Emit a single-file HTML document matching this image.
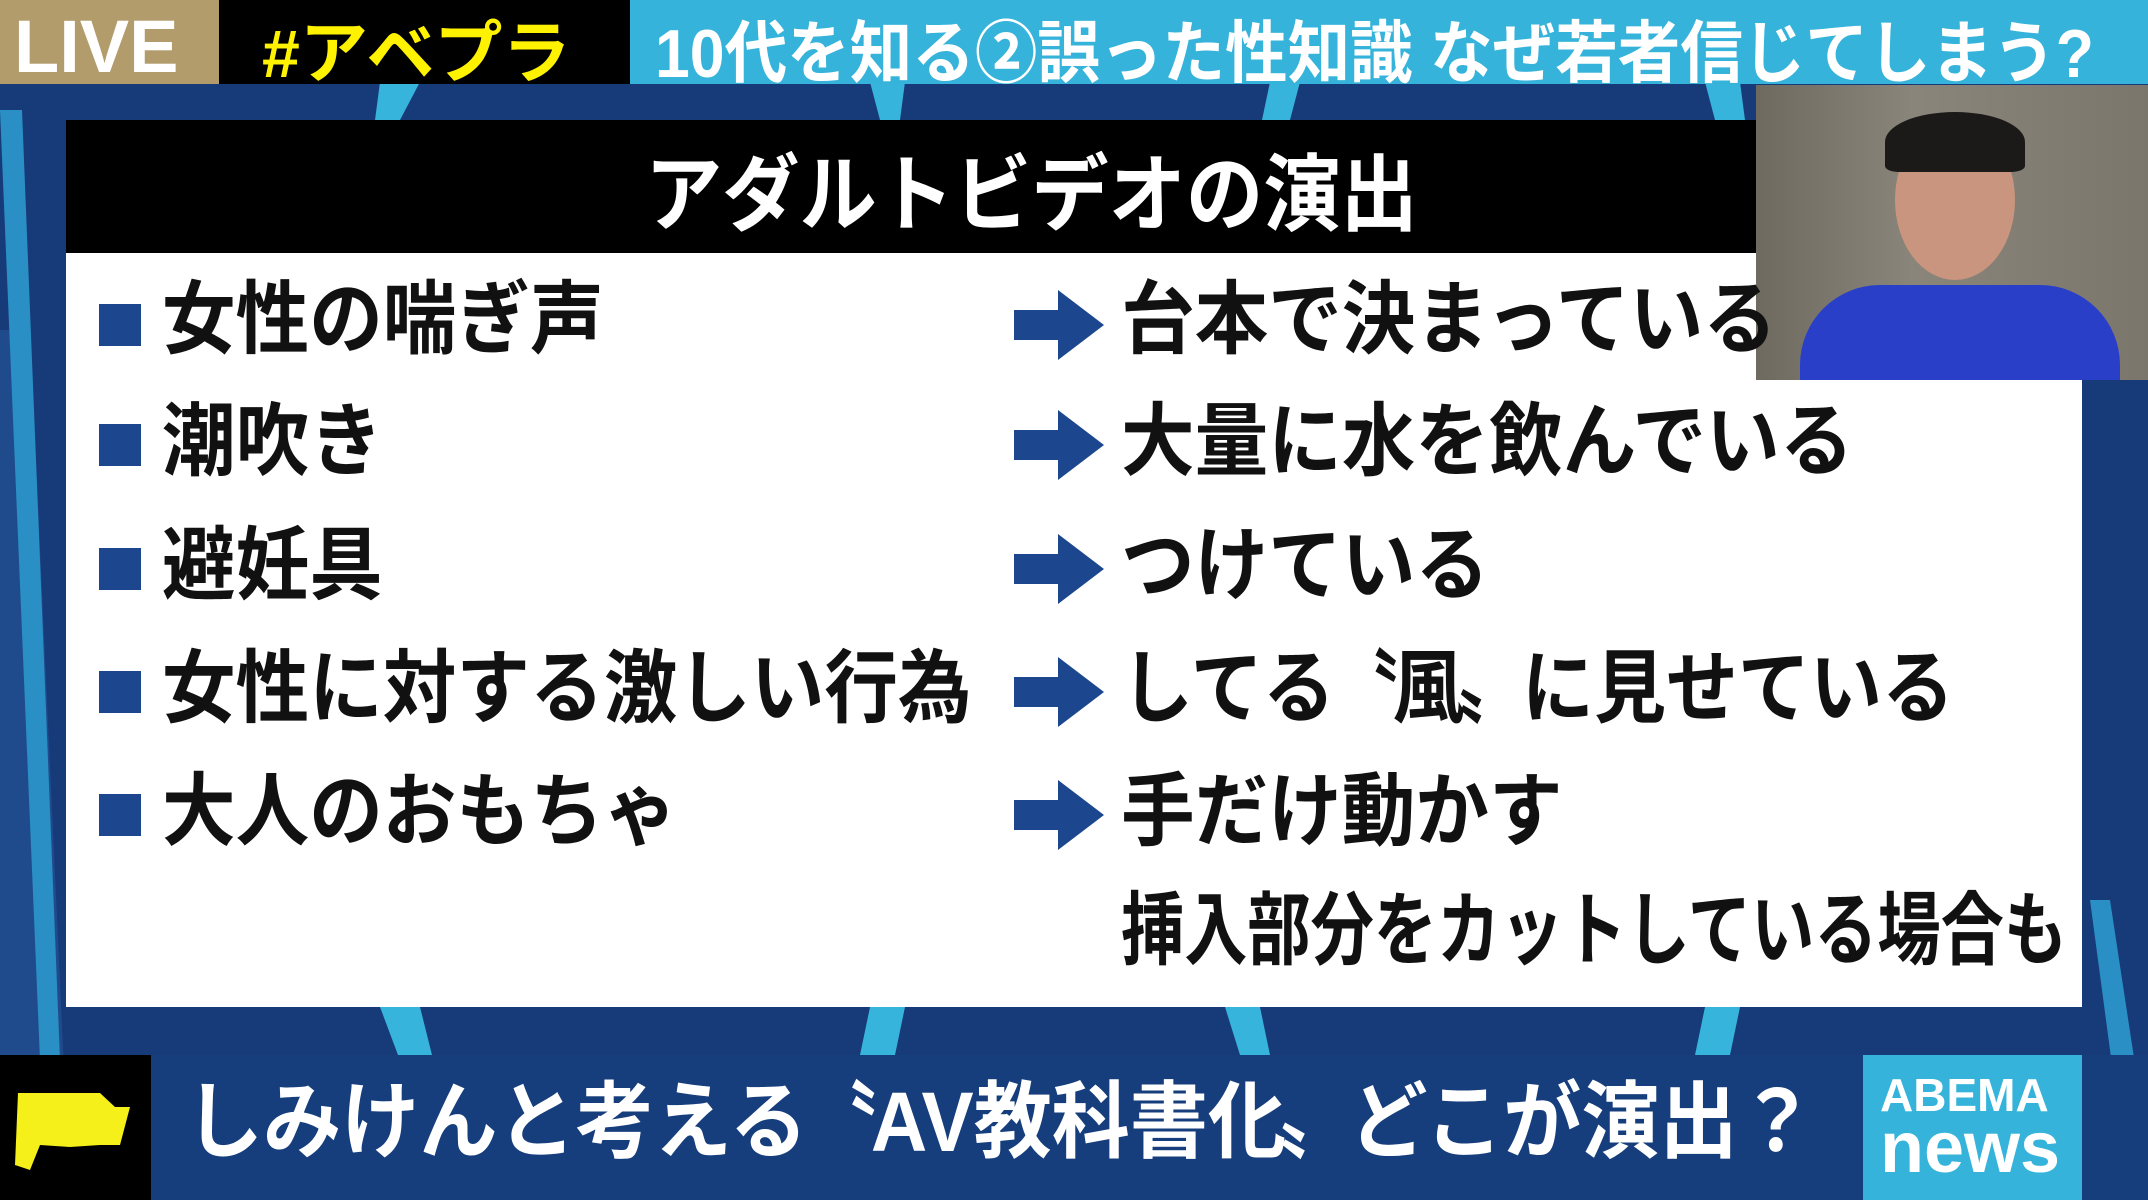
<!DOCTYPE html>
<html><head><meta charset="utf-8"><style>
*{margin:0;padding:0}
body{width:2148px;height:1200px;overflow:hidden;background:#173a78;position:relative;font-family:"Liberation Sans","Noto Sans CJK JP",sans-serif;font-weight:bold}
.a{position:absolute;white-space:nowrap}
.t{font-size:80px;line-height:1;color:#111;transform:scaleX(0.92);transform-origin:left center}
.b{width:42px;height:42px;background:#1c468e}
.q{display:inline-block;margin:0 -8px}
</style></head><body>
<svg class="a" style="left:0;top:0" width="2148" height="1200">
<rect x="0" y="0" width="2148" height="1200" fill="#173a78"/>
<polygon points="0,330 30,330 70,1200 0,1200" fill="#1f4b8c"/>
<polygon points="0,110 22,110 60,1060 40,1060" fill="#2a8fc4"/>
<polygon points="380,82 420,82 400,120 375,120" fill="#36b4dc"/>
<polygon points="870,82 905,82 900,120 880,120" fill="#36b4dc"/>
<polygon points="1270,82 1300,82 1290,120 1262,120" fill="#36b4dc"/>
<polygon points="1705,82 1740,82 1745,120 1715,120" fill="#36b4dc"/>
<polygon points="380,1007 420,1007 432,1055 398,1055" fill="#36b4dc"/>
<polygon points="870,1007 905,1007 895,1055 860,1055" fill="#36b4dc"/>
<polygon points="1225,1007 1260,1007 1270,1055 1240,1055" fill="#36b4dc"/>
<polygon points="1705,1007 1740,1007 1730,1055 1695,1055" fill="#36b4dc"/>
<polygon points="2090,900 2110,900 2148,1150 2148,1200 2130,1200" fill="#2a8fc4"/>
</svg>
<div class="a" style="left:0;top:0;width:219px;height:84px;background:#b39c6c"></div>
<div class="a" style="left:14px;top:4px;font-size:74px;color:#fff;font-family:'Liberation Sans',sans-serif">LIVE</div>
<div class="a" style="left:219px;top:0;width:411px;height:84px;background:#000"></div>
<div class="a" style="left:262px;top:-2px;font-size:68px;color:#fff200">#アベプラ</div>
<div class="a" style="left:630px;top:0;width:1518px;height:84px;background:#35b3da"></div>
<div class="a" style="left:655px;top:-2px;font-size:68px;color:#fff;transform:scaleX(0.92);transform-origin:left">10代を知る②誤った性知識 なぜ若者信じてしまう?</div>

<div class="a" style="left:66px;top:120px;width:2016px;height:887px;background:#fff"></div>
<div class="a" style="left:66px;top:120px;width:1690px;height:133px;background:#000"></div>
<div class="a" style="left:645px;top:128px;font-size:84px;color:#fff;transform:scaleX(0.92);transform-origin:left">アダルトビデオの演出</div>
<div class="a" style="left:1756px;top:85px;width:392px;height:295px;background:linear-gradient(90deg,#6e6a60,#8a857a 40%,#7b766c)"></div>
<div class="a" style="left:1895px;top:120px;width:120px;height:160px;border-radius:50%;background:#c9957e"></div>
<div class="a" style="left:1885px;top:112px;width:140px;height:60px;border-radius:50% 50% 10% 10%;background:#1c1a18"></div>
<div class="a" style="left:1800px;top:285px;width:320px;height:95px;border-radius:80px 80px 0 0;background:#2a3fc8"></div>

<div class="a b" style="left:99px;top:304px"></div>
<div class="a b" style="left:99px;top:424px"></div>
<div class="a b" style="left:99px;top:548px"></div>
<div class="a b" style="left:99px;top:671px"></div>
<div class="a b" style="left:99px;top:794px"></div>
<div class="a t" style="left:162px;top:280px">女性の喘ぎ声</div>
<div class="a t" style="left:162px;top:402px">潮吹き</div>
<div class="a t" style="left:162px;top:526px">避妊具</div>
<div class="a t" style="left:162px;top:649px">女性に対する激しい行為</div>
<div class="a t" style="left:162px;top:772px">大人のおもちゃ</div>
<svg class="a" style="left:1014px;top:0" width="92" height="900">
<g fill="#1c468e">
<polygon points="0,310 44,310 44,290 90,325 44,360 44,340 0,340"/>
<polygon points="0,430 44,430 44,410 90,445 44,480 44,460 0,460"/>
<polygon points="0,554 44,554 44,534 90,569 44,604 44,584 0,584"/>
<polygon points="0,677 44,677 44,657 90,692 44,727 44,707 0,707"/>
<polygon points="0,800 44,800 44,780 90,815 44,850 44,830 0,830"/>
</g></svg>
<div class="a t" style="left:1121px;top:280px">台本で決まっている</div>
<div class="a t" style="left:1121px;top:402px">大量に水を飲んでいる</div>
<div class="a t" style="left:1121px;top:526px">つけている</div>
<div class="a t" style="left:1121px;top:649px;transform:scaleX(0.9)">してる<span class="q">〝</span>風<span class="q">〟</span>に見せている</div>
<div class="a t" style="left:1121px;top:772px">手だけ動かす</div>
<div class="a t" style="left:1121px;top:891px;transform:scaleX(0.79)">挿入部分をカットしている場合も</div>

<div class="a" style="left:0;top:1055px;width:151px;height:145px;background:#000"></div>
<svg class="a" style="left:10px;top:1085px" width="130" height="90"><polygon points="8,8 90,8 105,22 120,22 110,60 90,60 60,62 30,60 20,85 5,80" fill="#f5ef1a"/></svg>
<div class="a" style="left:151px;top:1055px;width:1712px;height:145px;background:#163d7c"></div>
<div class="a" style="left:185px;top:1080px;font-size:84px;line-height:1;color:#fff;transform:scaleX(0.93);transform-origin:left">しみけんと考える<span class="q">〝</span>AV教科書化<span class="q">〟</span>どこが演出？</div>
<div class="a" style="left:1863px;top:1055px;width:219px;height:145px;background:#35b3da"></div>
<div class="a" style="left:1880px;top:1072px;font-size:46px;line-height:1;color:#fff;font-family:'Liberation Sans',sans-serif">ABEMA</div>
<div class="a" style="left:1880px;top:1112px;font-size:72px;line-height:1;color:#fff;font-family:'Liberation Sans',sans-serif">news</div>
<div class="a" style="left:2082px;top:1055px;width:66px;height:145px;background:#163d7c"></div>
</body></html>
